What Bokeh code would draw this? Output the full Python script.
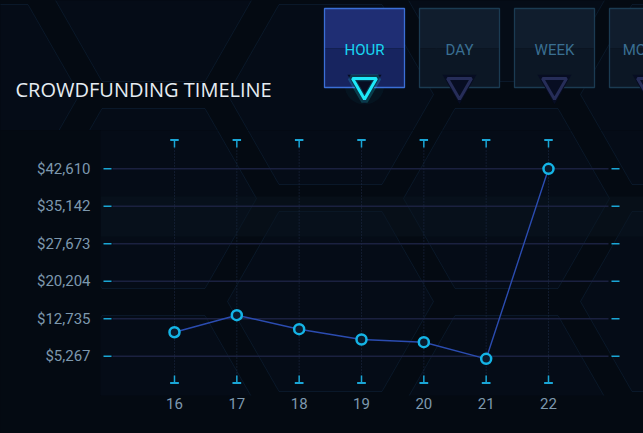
import math
from bokeh.plotting import figure
from bokeh.layouts import column
from bokeh.models import Range1d, FixedTicker, NumeralTickFormatter, LinearAxis
from bokeh.core.properties import value
from bokeh.embed import file_html
from bokeh.resources import INLINE

# ---- data ----
hours = [16, 17, 18, 19, 20, 21, 22]
funding = [10049, 13437, 10647, 8595, 8057, 4749, 42610]
y_ticks = [5267, 12735, 20204, 27673, 35142, 42610]
x_ticks = [16, 17, 18, 19, 20, 21, 22]
buttons = ["HOUR", "DAY", "WEEK", "MONTH"]
title_text = "CROWDFUNDING TIMELINE"

BG = "#040a12"
LABEL = "#7d98ae"
CYAN = "#14b4e6"
TICKC = "#1aa6d6"

# honeycomb background (reference pixel coordinates)
def hexagon(cx, cy, r=103, h=90):
    xs = [cx - r, cx - r / 2, cx + r / 2, cx + r, cx + r / 2, cx - r / 2]
    ys = [cy, cy - h, cy - h, cy, cy + h, cy + h]
    return xs, ys

hex_xs, hex_ys = [], []
for ci, cx in enumerate([-24, 153, 330, 506, 683]):
    cys = [-9, 198, 405] if ci % 2 == 1 else [94, 301, 508]
    for cy in cys:
        hx, hy = hexagon(cx, cy)
        hex_xs.append(hx)
        hex_ys.append(hy)


def add_background(fig, xr, yr):
    fig.patches(xs=hex_xs, ys=hex_ys, x_range_name=xr, y_range_name=yr,
                fill_color="#0a1828", fill_alpha=0.22, line_color="#10243a", line_alpha=0.55, line_width=1)


def no_frame_align(fig):
    if "frame_align" in fig.properties():
        fig.frame_align = False


# ================= header figure =================
HH = 130
head = figure(width=643, height=HH, output_backend="svg", toolbar_location=None,
              x_range=Range1d(0, 643), y_range=Range1d(HH, 0),
              min_border=0, min_border_left=0, min_border_right=0, min_border_top=0, min_border_bottom=0,
              background_fill_color=BG, border_fill_color=BG, outline_line_color=None,
              x_axis_location=None, y_axis_location=None)
head.xgrid.visible = False
head.ygrid.visible = False
no_frame_align(head)
add_background(head, "default", "default")

# glow around active triangle
head.scatter(x=[364], y=[84], marker="circle", size=40, fill_color="#1ee8f8", fill_alpha=0.04, line_color=None)

bl = [324, 419, 514, 609]
active = [True, False, False, False]
for i, lab in enumerate(buttons):
    a = active[i]
    head.quad(left=[bl[i]], right=[bl[i] + 80], top=[8], bottom=[48],
              fill_color="#1f2e74" if a else "#101d2d", line_color=None)
    head.quad(left=[bl[i]], right=[bl[i] + 80], top=[48], bottom=[87],
              fill_color="#17245f" if a else "#0c1725", line_color=None)
    head.quad(left=[bl[i]], right=[bl[i] + 80], top=[8], bottom=[87],
              fill_color=None, line_color="#3b6fd6" if a else "#1b3b52", line_width=1.3)
    head.text(x=[bl[i] + 40], y=[49], text=[lab],
              text_font=value("Roboto"), text_font_size="15px", text_align="center", text_baseline="middle",
              text_color="#19d6f2" if a else "#3a6f92")
    cx = bl[i] + 40
    head.scatter(x=[cx], y=[84], marker="inverted_triangle", size=34, fill_color="#070d22", line_color=None)
    if a:
        head.scatter(x=[cx], y=[85], marker="inverted_triangle", size=27, fill_color=None,
                     line_color="#1ee8f8", line_width=7, line_alpha=0.2)
    head.scatter(x=[cx], y=[85], marker="inverted_triangle", size=24, fill_color=None,
                 line_color="#1ee8f8" if a else "#262d58", line_width=3)

head.text(x=[15], y=[89], text=[title_text], text_font=value("Open Sans"), text_font_size="20px",
          text_color="#e6edf2", text_baseline="middle", text_align="left")

# ================= chart figure =================
CH = 433 - HH
TOP, BOT = HH, 395
p = figure(width=643, height=CH, output_backend="svg", toolbar_location=None,
           x_range=Range1d(14.813, 23.524), y_range=Range1d(-2564, 50244),
           min_border_left=100, min_border_right=0, min_border_top=0, min_border_bottom=433 - BOT,
           background_fill_color=BG, border_fill_color=BG, outline_line_color=None,
           x_axis_location=None, y_axis_location=None)
p.xgrid.visible = False
p.ygrid.visible = False
no_frame_align(p)
p.extra_x_ranges = {"px": Range1d(100, 643)}
p.extra_y_ranges = {"px": Range1d(BOT, TOP)}
add_background(p, "px", "px")
p.quad(left=[100], right=[643], top=[196], bottom=[236], x_range_name="px", y_range_name="px",
       fill_color="#0c1622", fill_alpha=0.45, line_color=None)

# grid lines & tick dashes
m = len(y_ticks)
p.segment(x0=[112] * m, x1=[608] * m, y0=y_ticks, y1=y_ticks,
          x_range_name="px", line_color="#1b2140", line_width=1.5)
p.segment(x0=[103] * m, x1=[111] * m, y0=y_ticks, y1=y_ticks,
          x_range_name="px", line_color=TICKC, line_width=1.5)
p.segment(x0=[611] * m, x1=[619] * m, y0=y_ticks, y1=y_ticks,
          x_range_name="px", line_color=TICKC, line_width=1.5)

# vertical dotted lines and T markers
n = len(x_ticks)
p.segment(x0=x_ticks, x1=x_ticks, y0=[147] * n, y1=[376] * n, y_range_name="px",
          line_color="#1f2c48", line_width=1, line_dash="1 2")
p.segment(x0=[t - 0.068 for t in x_ticks], x1=[t + 0.068 for t in x_ticks], y0=[139.5] * n, y1=[139.5] * n,
          y_range_name="px", line_color=TICKC, line_width=2)
p.segment(x0=x_ticks, x1=x_ticks, y0=[139.5] * n, y1=[147] * n, y_range_name="px",
          line_color=TICKC, line_width=1.5)
p.segment(x0=[t - 0.07 for t in x_ticks], x1=[t + 0.07 for t in x_ticks], y0=[382.5] * n, y1=[382.5] * n,
          y_range_name="px", line_color=TICKC, line_width=2)
p.segment(x0=x_ticks, x1=x_ticks, y0=[375] * n, y1=[382.5] * n, y_range_name="px",
          line_color=TICKC, line_width=1.5)

# series
p.line(hours, funding, line_color="#2b4cb0", line_width=1.4)
p.scatter(hours, funding, size=10, fill_color="#0a1a2c", line_color=CYAN, line_width=2.5)

# axes (labels only)
ya = LinearAxis(ticker=FixedTicker(ticks=y_ticks), formatter=NumeralTickFormatter(format="$0,0"))
xa = LinearAxis(ticker=FixedTicker(ticks=x_ticks))
for ax in (ya, xa):
    ax.axis_line_color = None
    ax.major_tick_line_color = None
    ax.minor_tick_line_color = None
    ax.major_tick_out = 0
    ax.major_tick_in = 0
    ax.major_label_text_color = LABEL
    ax.major_label_text_font = "Roboto"
    ax.major_label_text_font_size = "15px"
ya.major_label_standoff = 10
xa.major_label_standoff = 2
p.add_layout(ya, "left")
p.add_layout(xa, "below")

layout = column(head, p, spacing=0)
html = file_html(layout, INLINE)
html = html.replace("<head>", "<head><style>html,body{background:#040a12;}</style>", 1)
open("out.html", "w").write(html)
